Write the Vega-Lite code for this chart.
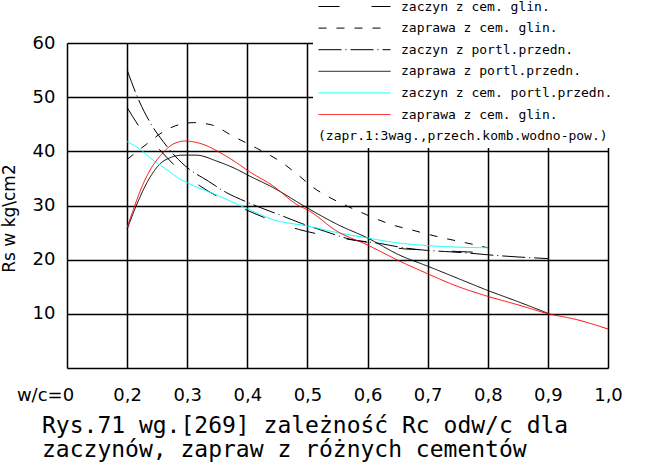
{
  "$schema": "https://vega.github.io/schema/vega-lite/v6.json",
  "width": 541,
  "height": 325,
  "autosize": "none",
  "padding": {"left": 67, "top": 43, "right": 53, "bottom": 101},
  "background": "white",
  "title": {
    "text": ["Rys.71 wg.[269] zależność Rc odw/c dla", "zaczynów, zapraw z różnych cementów"],
    "orient": "bottom",
    "anchor": "start",
    "frame": "group",
    "dx": -25,
    "offset": 11,
    "font": "DejaVu Sans Mono",
    "fontSize": 23,
    "fontWeight": "normal",
    "lineHeight": 24,
    "color": "black"
  },
  "data": {
    "values": [
      {"s": "zaczyn z cem. glin.", "w": 0.2, "r": 48.1},
      {"s": "zaczyn z cem. glin.", "w": 0.225, "r": 43.8},
      {"s": "zaczyn z cem. glin.", "w": 0.25, "r": 40.8},
      {"s": "zaczyn z cem. glin.", "w": 0.28, "r": 37.3},
      {"s": "zaczyn z cem. glin.", "w": 0.32, "r": 33.7},
      {"s": "zaczyn z cem. glin.", "w": 0.35, "r": 31.7},
      {"s": "zaczyn z cem. glin.", "w": 0.4, "r": 29.1},
      {"s": "zaczyn z cem. glin.", "w": 0.43, "r": 27.7},
      {"s": "zaczyn z cem. glin.", "w": 0.485, "r": 25.6},
      {"s": "zaczyn z cem. glin.", "w": 0.515, "r": 24.8},
      {"s": "zaczyn z cem. glin.", "w": 0.6, "r": 23.2},
      {"s": "zaczyn z cem. glin.", "w": 0.66, "r": 22.0},
      {"s": "zaczyn z cem. glin.", "w": 0.7, "r": 21.8},
      {"s": "zaczyn z cem. glin.", "w": 0.75, "r": 21.5},
      {"s": "zaczyn z cem. glin.", "w": 0.8, "r": 21.3},

      {"s": "zaprawa z cem. glin.", "w": 0.2, "r": 38.5},
      {"s": "zaprawa z cem. glin.", "w": 0.232, "r": 41.3},
      {"s": "zaprawa z cem. glin.", "w": 0.26, "r": 43.6},
      {"s": "zaprawa z cem. glin.", "w": 0.28, "r": 44.7},
      {"s": "zaprawa z cem. glin.", "w": 0.31, "r": 45.3},
      {"s": "zaprawa z cem. glin.", "w": 0.34, "r": 44.9},
      {"s": "zaprawa z cem. glin.", "w": 0.376, "r": 42.8},
      {"s": "zaprawa z cem. glin.", "w": 0.415, "r": 40.6},
      {"s": "zaprawa z cem. glin.", "w": 0.454, "r": 38.2},
      {"s": "zaprawa z cem. glin.", "w": 0.487, "r": 35.4},
      {"s": "zaprawa z cem. glin.", "w": 0.51, "r": 33.3},
      {"s": "zaprawa z cem. glin.", "w": 0.535, "r": 31.6},
      {"s": "zaprawa z cem. glin.", "w": 0.56, "r": 30.2},
      {"s": "zaprawa z cem. glin.", "w": 0.59, "r": 28.7},
      {"s": "zaprawa z cem. glin.", "w": 0.615, "r": 27.5},
      {"s": "zaprawa z cem. glin.", "w": 0.642, "r": 26.4},
      {"s": "zaprawa z cem. glin.", "w": 0.673, "r": 25.5},
      {"s": "zaprawa z cem. glin.", "w": 0.7, "r": 24.7},
      {"s": "zaprawa z cem. glin.", "w": 0.73, "r": 23.9},
      {"s": "zaprawa z cem. glin.", "w": 0.76, "r": 23.2},
      {"s": "zaprawa z cem. glin.", "w": 0.8, "r": 22.2},

      {"s": "zaczyn z portl.przedn.", "w": 0.2, "r": 55.0},
      {"s": "zaczyn z portl.przedn.", "w": 0.22, "r": 49.3},
      {"s": "zaczyn z portl.przedn.", "w": 0.24, "r": 45.0},
      {"s": "zaczyn z portl.przedn.", "w": 0.26, "r": 41.8},
      {"s": "zaczyn z portl.przedn.", "w": 0.28, "r": 39.1},
      {"s": "zaczyn z portl.przedn.", "w": 0.3, "r": 37.0},
      {"s": "zaczyn z portl.przedn.", "w": 0.335, "r": 34.5},
      {"s": "zaczyn z portl.przedn.", "w": 0.365, "r": 32.4},
      {"s": "zaczyn z portl.przedn.", "w": 0.4, "r": 30.6},
      {"s": "zaczyn z portl.przedn.", "w": 0.46, "r": 28.0},
      {"s": "zaczyn z portl.przedn.", "w": 0.49, "r": 26.7},
      {"s": "zaczyn z portl.przedn.", "w": 0.53, "r": 25.2},
      {"s": "zaczyn z portl.przedn.", "w": 0.57, "r": 23.8},
      {"s": "zaczyn z portl.przedn.", "w": 0.62, "r": 23.0},
      {"s": "zaczyn z portl.przedn.", "w": 0.66, "r": 22.2},
      {"s": "zaczyn z portl.przedn.", "w": 0.7, "r": 21.7},
      {"s": "zaczyn z portl.przedn.", "w": 0.73, "r": 21.5},
      {"s": "zaczyn z portl.przedn.", "w": 0.77, "r": 21.2},
      {"s": "zaczyn z portl.przedn.", "w": 0.8, "r": 20.9},
      {"s": "zaczyn z portl.przedn.", "w": 0.85, "r": 20.5},
      {"s": "zaczyn z portl.przedn.", "w": 0.9, "r": 20.2},

      {"s": "zaprawa z portl.przedn.", "w": 0.2, "r": 25.6},
      {"s": "zaprawa z portl.przedn.", "w": 0.215, "r": 29.9},
      {"s": "zaprawa z portl.przedn.", "w": 0.2375, "r": 35.1},
      {"s": "zaprawa z portl.przedn.", "w": 0.254, "r": 37.6},
      {"s": "zaprawa z portl.przedn.", "w": 0.271, "r": 38.8},
      {"s": "zaprawa z portl.przedn.", "w": 0.293, "r": 39.3},
      {"s": "zaprawa z portl.przedn.", "w": 0.315, "r": 39.3},
      {"s": "zaprawa z portl.przedn.", "w": 0.349, "r": 38.2},
      {"s": "zaprawa z portl.przedn.", "w": 0.382, "r": 36.7},
      {"s": "zaprawa z portl.przedn.", "w": 0.401, "r": 35.6},
      {"s": "zaprawa z portl.przedn.", "w": 0.443, "r": 33.3},
      {"s": "zaprawa z portl.przedn.", "w": 0.499, "r": 29.6},
      {"s": "zaprawa z portl.przedn.", "w": 0.55, "r": 26.5},
      {"s": "zaprawa z portl.przedn.", "w": 0.6, "r": 24.0},
      {"s": "zaprawa z portl.przedn.", "w": 0.654, "r": 20.8},
      {"s": "zaprawa z portl.przedn.", "w": 0.7, "r": 18.8},
      {"s": "zaprawa z portl.przedn.", "w": 0.749, "r": 16.6},
      {"s": "zaprawa z portl.przedn.", "w": 0.798, "r": 14.4},
      {"s": "zaprawa z portl.przedn.", "w": 0.849, "r": 12.3},
      {"s": "zaprawa z portl.przedn.", "w": 0.9, "r": 10.1},

      {"s": "zaczyn z cem. portl.przedn.", "w": 0.2, "r": 41.8},
      {"s": "zaczyn z cem. portl.przedn.", "w": 0.221, "r": 40.4},
      {"s": "zaczyn z cem. portl.przedn.", "w": 0.243, "r": 38.4},
      {"s": "zaczyn z cem. portl.przedn.", "w": 0.265, "r": 36.7},
      {"s": "zaczyn z cem. portl.przedn.", "w": 0.2875, "r": 34.9},
      {"s": "zaczyn z cem. portl.przedn.", "w": 0.3, "r": 34.2},
      {"s": "zaczyn z cem. portl.przedn.", "w": 0.354, "r": 31.7},
      {"s": "zaczyn z cem. portl.przedn.", "w": 0.4, "r": 29.4},
      {"s": "zaczyn z cem. portl.przedn.", "w": 0.443, "r": 27.4},
      {"s": "zaczyn z cem. portl.przedn.", "w": 0.5, "r": 26.2},
      {"s": "zaczyn z cem. portl.przedn.", "w": 0.554, "r": 24.9},
      {"s": "zaczyn z cem. portl.przedn.", "w": 0.6, "r": 24.0},
      {"s": "zaczyn z cem. portl.przedn.", "w": 0.643, "r": 23.2},
      {"s": "zaczyn z cem. portl.przedn.", "w": 0.7, "r": 22.6},
      {"s": "zaczyn z cem. portl.przedn.", "w": 0.754, "r": 22.3},
      {"s": "zaczyn z cem. portl.przedn.", "w": 0.8, "r": 22.2},

      {"s": "zaprawa z cem. glin. (2)", "w": 0.2, "r": 25.9},
      {"s": "zaprawa z cem. glin. (2)", "w": 0.2125, "r": 29.9},
      {"s": "zaprawa z cem. glin. (2)", "w": 0.224, "r": 33.3},
      {"s": "zaprawa z cem. glin. (2)", "w": 0.2375, "r": 36.4},
      {"s": "zaprawa z cem. glin. (2)", "w": 0.257, "r": 39.4},
      {"s": "zaprawa z cem. glin. (2)", "w": 0.276, "r": 41.3},
      {"s": "zaprawa z cem. glin. (2)", "w": 0.296, "r": 41.9},
      {"s": "zaprawa z cem. glin. (2)", "w": 0.326, "r": 41.3},
      {"s": "zaprawa z cem. glin. (2)", "w": 0.354, "r": 39.8},
      {"s": "zaprawa z cem. glin. (2)", "w": 0.382, "r": 37.9},
      {"s": "zaprawa z cem. glin. (2)", "w": 0.4, "r": 36.5},
      {"s": "zaprawa z cem. glin. (2)", "w": 0.443, "r": 33.6},
      {"s": "zaprawa z cem. glin. (2)", "w": 0.485, "r": 30.0},
      {"s": "zaprawa z cem. glin. (2)", "w": 0.5, "r": 29.2},
      {"s": "zaprawa z cem. glin. (2)", "w": 0.55, "r": 25.2},
      {"s": "zaprawa z cem. glin. (2)", "w": 0.6, "r": 22.7},
      {"s": "zaprawa z cem. glin. (2)", "w": 0.654, "r": 19.7},
      {"s": "zaprawa z cem. glin. (2)", "w": 0.7, "r": 17.4},
      {"s": "zaprawa z cem. glin. (2)", "w": 0.749, "r": 15.1},
      {"s": "zaprawa z cem. glin. (2)", "w": 0.798, "r": 13.3},
      {"s": "zaprawa z cem. glin. (2)", "w": 0.849, "r": 11.7},
      {"s": "zaprawa z cem. glin. (2)", "w": 0.898, "r": 10.1},
      {"s": "zaprawa z cem. glin. (2)", "w": 0.949, "r": 8.9},
      {"s": "zaprawa z cem. glin. (2)", "w": 1.0, "r": 7.2}
    ]
  },
  "mark": {"type": "line", "strokeWidth": 1, "interpolate": "monotone"},
  "encoding": {
    "x": {
      "field": "w",
      "type": "quantitative",
      "scale": {"domain": [0.1, 1.0], "nice": false, "zero": false},
      "axis": {
        "title": null,
        "values": [0.1, 0.2, 0.3, 0.4, 0.5, 0.6, 0.7, 0.8, 0.9, 1.0],
        "labelExpr": "datum.value < 0.15 ? 'w/c=0' : replace(format(datum.value, '.1f'), '.', ',')",
        "labelOffset": {"condition": {"test": "datum.value < 0.15", "value": -22}, "value": 0},
        "labelFlush": false,
        "labelOverlap": false
      }
    },
    "y": {
      "field": "r",
      "type": "quantitative",
      "scale": {"domain": [0, 60], "nice": false, "zero": true},
      "axis": {
        "title": "Rs w kg\\cm2",
        "values": [0, 10, 20, 30, 40, 50, 60],
        "labelExpr": "datum.value == 0 ? '' : datum.label",
        "labelPadding": 12,
        "titlePadding": 14,
        "titleY": 175,
        "labelFlush": false,
        "labelOverlap": false
      }
    },
    "color": {
      "field": "s",
      "type": "nominal",
      "scale": {
        "domain": ["zaczyn z cem. glin.", "zaprawa z cem. glin.", "zaczyn z portl.przedn.", "zaprawa z portl.przedn.", "zaczyn z cem. portl.przedn.", "zaprawa z cem. glin. (2)"],
        "range": ["#000000", "#000000", "#000000", "#000000", "#00ffff", "#ff0000"]
      },
      "legend": {
        "title": "(zapr.1:3wag.,przech.komb.wodno-pow.)",
        "labelExpr": "replace(datum.label, ' (2)', '')"
      }
    },
    "strokeDash": {
      "field": "s",
      "type": "nominal",
      "scale": {
        "domain": ["zaczyn z cem. glin.", "zaprawa z cem. glin.", "zaczyn z portl.przedn.", "zaprawa z portl.przedn.", "zaczyn z cem. portl.przedn.", "zaprawa z cem. glin. (2)"],
        "range": [[21, 32], [8, 10], [23, 4, 1, 4], [1, 0], [1, 0], [1, 0]]
      },
      "legend": {
        "title": "(zapr.1:3wag.,przech.komb.wodno-pow.)",
        "labelExpr": "replace(datum.label, ' (2)', '')"
      }
    }
  },
  "config": {
    "view": {"stroke": null},
    "axis": {
      "grid": true,
      "gridColor": "#000000",
      "gridWidth": 1.5,
      "gridOpacity": 1,
      "domain": false,
      "ticks": false,
      "labelFont": "DejaVu Sans",
      "labelFontSize": 18,
      "labelColor": "#000000",
      "titleFont": "DejaVu Sans",
      "titleFontSize": 17,
      "titleFontWeight": "normal",
      "titleColor": "#000000"
    },
    "axisX": {"labelPadding": 18},
    "legend": {
      "orient": "none",
      "legendX": 246,
      "legendY": -52,
      "padding": 5,
      "fillColor": "white",
      "strokeColor": null,
      "symbolType": "M-1,0H6.2",
      "symbolSize": 400,
      "symbolStrokeWidth": 1,
      "labelFont": "DejaVu Sans Mono",
      "labelFontSize": 13,
      "labelColor": "#000000",
      "labelOffset": 62,
      "labelLimit": 400,
      "rowPadding": 3.6,
      "titleOrient": "bottom",
      "titleFont": "DejaVu Sans Mono",
      "titleFontSize": 13,
      "titleFontWeight": "normal",
      "titleColor": "#000000",
      "titlePadding": 8,
      "titleLimit": 400,
      "zindex": 1
    }
  }
}
